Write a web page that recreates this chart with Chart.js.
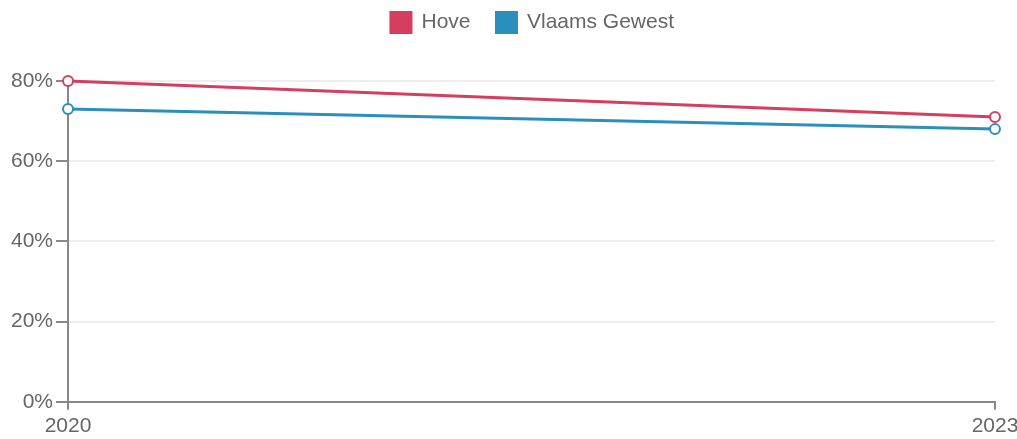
<!DOCTYPE html>
<html>
<head>
<meta charset="utf-8">
<script src="https://cdn.jsdelivr.net/npm/chart.js@4"></script>
<style>
  html, body { margin: 0; padding: 0; background: #fff; overflow: hidden; }
  #wrap { width: 1017px; height: 443px; }
</style>
</head>
<body>
<div id="wrap"><canvas id="chart"></canvas></div>
<script>
const years = ["2020", "2023"];
const hove = [80, 71];
const vlaams = [73, 68];
const yTicks = [0, 20, 40, 60, 80];

const axisGrey = "#888";
const textGrey = "#666";

// legend: more room below it, and centred over the plot area
const legendTweak = {
    id: "legendTweak",
    beforeInit(chart) {
        const legend = chart.legend;
        const fit = legend.fit;
        legend.fit = function () {
            fit.call(this);
            this.height += 38;
        };
        const draw = legend.draw;
        legend.draw = function () {
            const ctx = this.ctx;
            ctx.save();
            ctx.translate(31, 0);
            draw.call(this);
            ctx.restore();
        };
    }
};

new Chart(document.getElementById("chart"), {
    type: "line",
    data: {
        labels: years,
        datasets: [{
            label: "Hove",
            data: hove,
            borderColor: "#d63e60",
            backgroundColor: "#d63e60",
            borderWidth: 3,
            pointRadius: 5,
            pointBorderWidth: 2,
            pointBackgroundColor: "#fff",
            pointBorderColor: "#d63e60",
            clip: false
        }, {
            label: "Vlaams Gewest",
            data: vlaams,
            borderColor: "#2b8fbe",
            backgroundColor: "#2b8fbe",
            borderWidth: 3,
            pointRadius: 5,
            pointBorderWidth: 2,
            pointBackgroundColor: "#fff",
            pointBorderColor: "#2b8fbe",
            clip: false
        }]
    },
    plugins: [legendTweak],
    options: {
        responsive: true,
        maintainAspectRatio: false,
        animation: false,
        layout: { padding: { left: 8, right: 22, top: -14, bottom: 0 } },
        plugins: {
            legend: {
                labels: {
                    color: textGrey,
                    font: { family: "Liberation Sans", size: 21 },
                    boxWidth: 20,
                    boxHeight: 20,
                    padding: 26
                }
            },
            tooltip: { enabled: false }
        },
        scales: {
            x: {
                offset: false,
                afterFit: s => { s.paddingRight = 0; },
                grid: { drawOnChartArea: false, color: axisGrey, tickLength: 8, lineWidth: 2 },
                border: { color: axisGrey, width: 2 },
                ticks: {
                    color: textGrey,
                    font: { family: "Liberation Sans", size: 21 },
                    padding: 4,
                    maxRotation: 0
                }
            },
            y: {
                min: 0,
                max: 80,
                afterBuildTicks: axis => { axis.ticks = yTicks.map(v => ({ value: v })); },
                grid: { color: "#eee", tickColor: axisGrey, tickLength: 12, lineWidth: 2 },
                border: { color: axisGrey, width: 2 },
                ticks: {
                    color: textGrey,
                    font: { family: "Liberation Sans", size: 21 },
                    padding: 3,
                    callback: v => v + "%"
                }
            }
        }
    }
});
</script>
</body>
</html>
